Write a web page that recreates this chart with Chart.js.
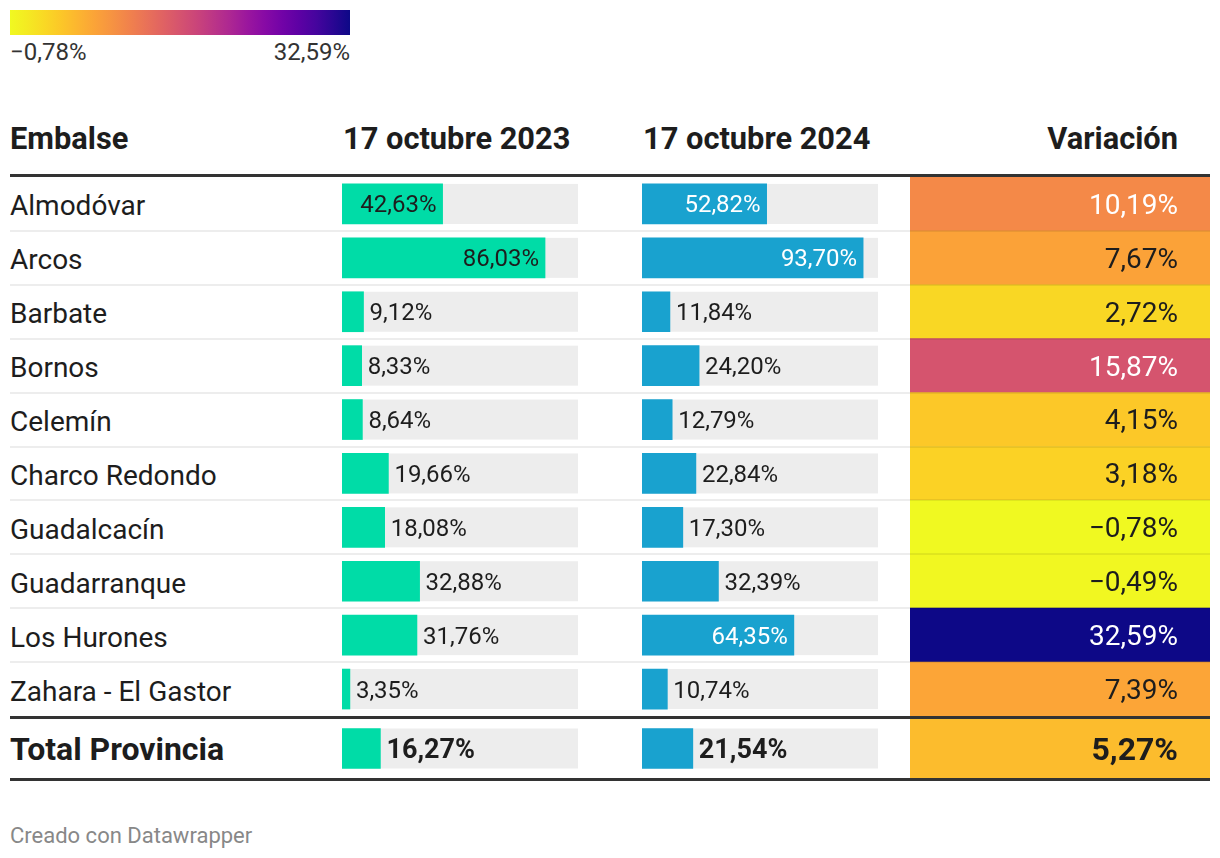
<!DOCTYPE html>
<html lang="es">
<head>
<meta charset="utf-8">
<title>Embalses de la provincia</title>
<script src="https://cdn.jsdelivr.net/npm/chart.js@4.4.1/dist/chart.umd.min.js"></script>
<style>
  body { margin: 0; background: #fff; font-family: Roboto, sans-serif; color: #1d1d1d; }
  #page { position: relative; width: 1220px; height: 858px; overflow: hidden; }
  .txt { position: absolute; white-space: nowrap; line-height: 1; }
  .box { position: absolute; }
  .rule { position: absolute; left: 10px; width: 1200px; z-index: 2; }
  .thick { height: 3px; background: #333; }
  .thin { height: 2px; background: rgba(0, 0, 0, 0.07); }
  #legendBar { position: absolute; left: 10px; top: 10px; width: 340px; height: 25px; }
</style>
</head>
<body>
<div id="page">
  <div id="legendBar"></div>
  <div class="box" style="left:342px;top:177px;width:236px;height:539px"><canvas id="c2023"></canvas></div>
  <div class="box" style="left:642px;top:177px;width:236px;height:539px"><canvas id="c2024"></canvas></div>
  <div class="box" style="left:910px;top:177px;width:300px;height:539px"><canvas id="cVar"></canvas></div>
  <div class="box" style="left:342px;top:719px;width:236px;height:59px"><canvas id="t2023"></canvas></div>
  <div class="box" style="left:642px;top:719px;width:236px;height:59px"><canvas id="t2024"></canvas></div>
  <div class="box" style="left:910px;top:719px;width:300px;height:59px"><canvas id="tVar"></canvas></div>
</div>
<script>
// datos
const embalses = ['Almodóvar', 'Arcos', 'Barbate', 'Bornos', 'Celemín', 'Charco Redondo',
                  'Guadalcacín', 'Guadarranque', 'Los Hurones', 'Zahara - El Gastor'];
const pct2023 = [42.63, 86.03, 9.12, 8.33, 8.64, 19.66, 18.08, 32.88, 31.76, 3.35];
const pct2024 = [52.82, 93.70, 11.84, 24.20, 12.79, 22.84, 17.30, 32.39, 64.35, 10.74];
const variacion = [10.19, 7.67, 2.72, 15.87, 4.15, 3.18, -0.78, -0.49, 32.59, 7.39];
const totalLabel = ['Total Provincia'];
const total2023 = [16.27];
const total2024 = [21.54];
const totalVariacion = [5.27];
const headers = ['Embalse', '17 octubre 2023', '17 octubre 2024', 'Variación'];

const page = document.getElementById('page');
const ROW_TOP = 177, ROW_H = 53.9;

// escala de color (plasma invertida, algo estirada hacia el amarillo)
const plasma = ['#0d0887', '#41049d', '#6a00a8', '#8f0da4', '#b12a90', '#cc4778',
                '#e16462', '#f2844b', '#fca636', '#fcce25', '#f0f921'];
const varMin = Math.min(...variacion);
const varMax = Math.max(...variacion);

function hexToRgb(h) {
  return [1, 3, 5].map(i => parseInt(h.substr(i, 2), 16));
}
function colourAt(t) {
  const p = (1 - Math.pow(t, 1.13)) * (plasma.length - 1);
  const i = Math.min(Math.floor(p), plasma.length - 2);
  const f = p - i;
  const a = hexToRgb(plasma[i]), b = hexToRgb(plasma[i + 1]);
  return a.map((x, k) => Math.round(x + (b[k] - x) * f));
}
function colourFor(v) { return colourAt((v - varMin) / (varMax - varMin)); }
function rgbStr(c) { return 'rgb(' + c.join(',') + ')'; }
function luminance(c) {
  const l = c.map(x => { x /= 255; return x <= 0.03928 ? x / 12.92 : Math.pow((x + 0.055) / 1.055, 2.4); });
  return 0.2126 * l[0] + 0.7152 * l[1] + 0.0722 * l[2];
}
function textOn(c) { return luminance(c) < 0.42 ? '#ffffff' : '#1d1d1d'; }
function fmt(v) { return (v < 0 ? '\u2212' : '') + Math.abs(v).toFixed(2).replace('.', ',') + '%'; }

// texto html posicionado por linea base
function place(text, x, baseline, size, opts = {}) {
  const d = document.createElement('div');
  d.className = 'txt';
  d.textContent = text;
  d.style.fontSize = size + 'px';
  d.style.fontWeight = opts.bold ? '700' : '400';
  d.style.top = (baseline - 0.842 * size) + 'px';
  if (opts.color) d.style.color = opts.color;
  if (opts.right) d.style.right = (1220 - x) + 'px';
  else d.style.left = x + 'px';
  page.appendChild(d);
}
function rule(cls, top) {
  const d = document.createElement('div');
  d.className = 'rule ' + cls;
  d.style.top = top + 'px';
  page.appendChild(d);
}

// leyenda
const stops = [];
for (let k = 0; k <= 20; k++) stops.push(rgbStr(colourAt(k / 20)) + ' ' + (k * 5) + '%');
document.getElementById('legendBar').style.background = 'linear-gradient(to right, ' + stops.join(', ') + ')';
place(fmt(varMin), 10, 60, 24, { color: '#333' });
place(fmt(varMax), 350, 60, 24, { color: '#333', right: true });

// cabecera
place(headers[0], 10, 150, 30.8, { bold: true });
place(headers[1], 343, 150, 30.8, { bold: true });
place(headers[2], 643, 150, 30.8, { bold: true });
place(headers[3], 1178, 150, 30.8, { bold: true, right: true });

embalses.forEach((n, i) => place(n, 10, 216 + ROW_H * i, 28));
place(totalLabel[0], 10, 760, 32, { bold: true });
place('Creado con Datawrapper', 10, 844, 22, { color: '#888' });

rule('thick', 174);
for (let i = 0; i < embalses.length - 1; i++) rule('thin', Math.round(ROW_TOP - 1 + ROW_H * (i + 1)));
rule('thick', 716);
rule('thick', 778);

// plugin: pista gris, etiquetas de valor
const cellText = {
  id: 'cellText',
  beforeDatasetsDraw(chart, args, opts) {
    if (!opts.track) return;
    const { ctx, scales: { x } } = chart;
    ctx.save();
    ctx.fillStyle = opts.track;
    chart.getDatasetMeta(0).data.forEach(bar => {
      ctx.fillRect(x.getPixelForValue(0), bar.y - bar.height / 2,
                   x.getPixelForValue(100) - x.getPixelForValue(0), bar.height);
    });
    ctx.restore();
  },
  afterDatasetsDraw(chart, args, opts) {
    const { ctx } = chart;
    ctx.save();
    ctx.font = (opts.bold ? '700 ' : '400 ') + opts.size + 'px Roboto';
    ctx.textBaseline = 'alphabetic';
    chart.getDatasetMeta(0).data.forEach((bar, i) => {
      const v = opts.values[i];
      const txt = fmt(v);
      const w = ctx.measureText(txt).width;
      let tx, col;
      if (opts.mode === 'cell') {
        ctx.textAlign = 'right';
        tx = chart.chartArea.right - 32;
        col = textOn(colourFor(v));
      } else if (bar.x - bar.base >= w + 12) {
        ctx.textAlign = 'right';
        tx = bar.x - 6;
        col = textOn(hexToRgb(opts.colour));
      } else {
        ctx.textAlign = 'left';
        tx = bar.x + 6;
        col = '#1d1d1d';
      }
      ctx.fillStyle = col;
      ctx.fillText(txt, tx, bar.y + 0.355 * opts.size);
    });
    ctx.restore();
  }
};

function baseOptions(xMax, label) {
  return {
    indexAxis: 'y',
    responsive: true,
    maintainAspectRatio: false,
    animation: false,
    events: [],
    layout: { padding: 0 },
    scales: { x: { display: false, min: 0, max: xMax }, y: { display: false } },
    plugins: { legend: { display: false }, tooltip: { enabled: false }, cellText: label }
  };
}

function barColumn(id, labels, values, colour, size, bold) {
  return new Chart(document.getElementById(id), {
    type: 'bar',
    data: { labels: labels, datasets: [{ data: values, backgroundColor: colour, barThickness: 40 }] },
    options: baseOptions(100, { track: '#ededed', mode: 'bar', values, colour, size, bold }),
    plugins: [cellText]
  });
}

function cellColumn(id, labels, values, size, bold) {
  return new Chart(document.getElementById(id), {
    type: 'bar',
    data: {
      labels: labels,
      datasets: [{
        data: values.map(() => [0, 1]),
        backgroundColor: values.map(v => rgbStr(colourFor(v))),
        barPercentage: 1,
        categoryPercentage: 1
      }]
    },
    options: baseOptions(1, { mode: 'cell', values, size, bold }),
    plugins: [cellText]
  });
}

barColumn('c2023', embalses, pct2023, '#00dca7', 24, false);
barColumn('c2024', embalses, pct2024, '#19a2cf', 24, false);
cellColumn('cVar', embalses, variacion, 28, false);
barColumn('t2023', totalLabel, total2023, '#00dca7', 27, true);
barColumn('t2024', totalLabel, total2024, '#19a2cf', 27, true);
cellColumn('tVar', totalLabel, totalVariacion, 32, true);
</script>
</body>
</html>
